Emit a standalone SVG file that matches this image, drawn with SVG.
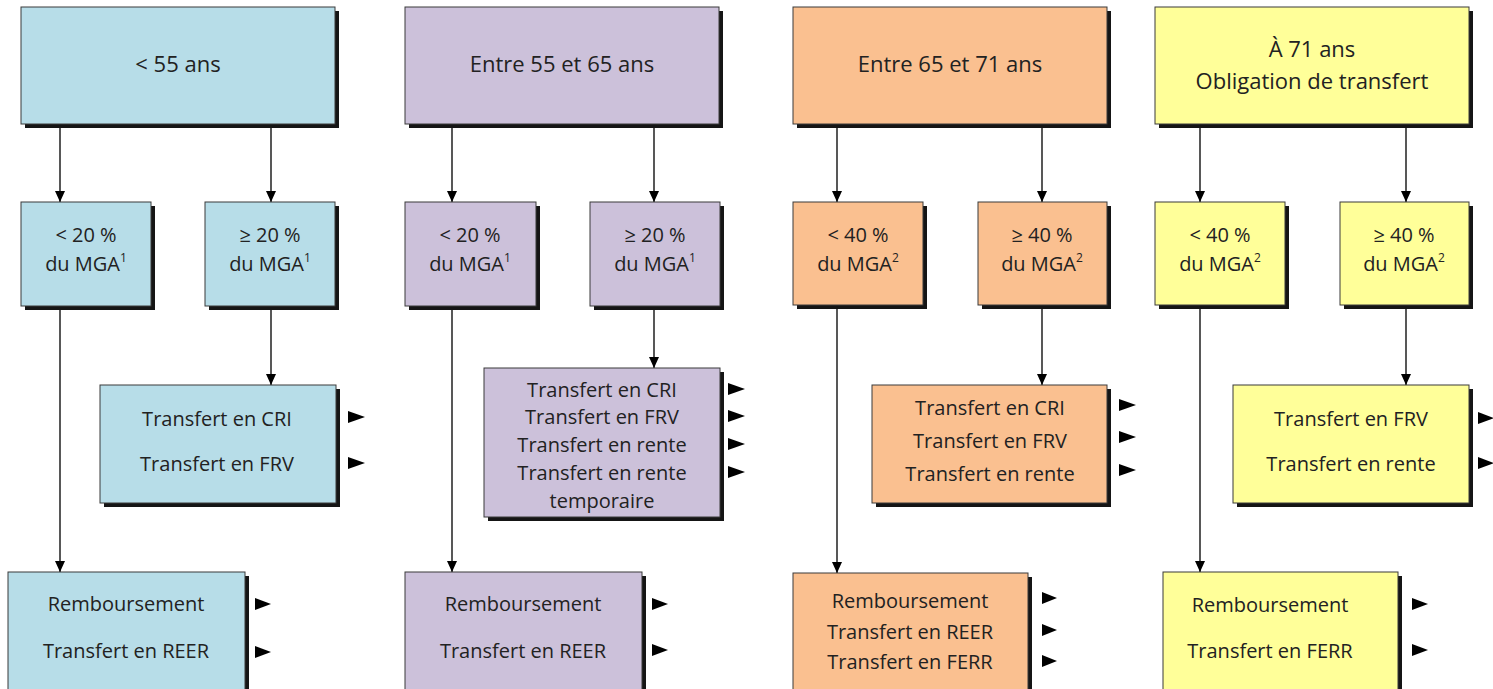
<svg xmlns="http://www.w3.org/2000/svg" width="1493" height="689" viewBox="0 0 1493 689">
<defs>
<style>
.sh{fill:#151515}
.box{stroke:#3a3a3a;stroke-width:1}
.blue{fill:#B7DDE8}
.purple{fill:#CCC1DA}
.orange{fill:#FAC090}
.yellow{fill:#FFFF99}
text{font-family:"Open Sans","Liberation Sans",sans-serif;font-size:20px;fill:#222;text-anchor:middle;dominant-baseline:central}
.big{font-size:22px}
.sup{font-size:12px}
.bul{fill:#000}
.edge{stroke:#111;stroke-width:1.4;fill:none;marker-end:url(#ah)}
</style>
<marker id="ah" markerUnits="userSpaceOnUse" markerWidth="12" markerHeight="12" viewBox="0 0 12 12" refX="11" refY="6" orient="auto">
<path d="M0,1 L11,6 L0,11 z" fill="#000"/>
</marker>
</defs>
<rect width="1493" height="689" fill="#fff"/>

<g id="connectors">
<line class="edge" x1="60" y1="124" x2="60" y2="202"/>
<line class="edge" x1="271" y1="124" x2="271" y2="202"/>
<line class="edge" x1="60" y1="306" x2="60" y2="572"/>
<line class="edge" x1="271" y1="306" x2="271" y2="385"/>
<line class="edge" x1="452" y1="124" x2="452" y2="202"/>
<line class="edge" x1="654" y1="124" x2="654" y2="202"/>
<line class="edge" x1="452" y1="306" x2="452" y2="572"/>
<line class="edge" x1="654" y1="306" x2="654" y2="368"/>
<line class="edge" x1="837" y1="124" x2="837" y2="202"/>
<line class="edge" x1="1042" y1="124" x2="1042" y2="202"/>
<line class="edge" x1="837" y1="305" x2="837" y2="573"/>
<line class="edge" x1="1042" y1="305" x2="1042" y2="385"/>
<line class="edge" x1="1200" y1="124" x2="1200" y2="202"/>
<line class="edge" x1="1406" y1="124" x2="1406" y2="202"/>
<line class="edge" x1="1200" y1="305" x2="1200" y2="572"/>
<line class="edge" x1="1406" y1="305" x2="1406" y2="385"/>
</g>

<!-- Column 1 -->
<g id="n1">
<rect class="sh" x="25" y="11" width="314" height="117"/>
<rect class="box blue" x="21" y="7" width="314" height="117"/>
<text class="big" x="178" y="63">&lt; 55 ans</text>
</g>
<g id="n1a">
<rect class="sh" x="25" y="206" width="130" height="104"/>
<rect class="box blue" x="21" y="202" width="130" height="104"/>
<text x="86" y="234">&lt; 20 %</text>
<text x="86" y="263">du MGA<tspan class="sup" dy="-6">1</tspan></text>
</g>
<g id="n1b">
<rect class="sh" x="209" y="206" width="130" height="104"/>
<rect class="box blue" x="205" y="202" width="130" height="104"/>
<text x="270" y="234">≥ 20 %</text>
<text x="270" y="263">du MGA<tspan class="sup" dy="-6">1</tspan></text>
</g>
<g id="n1c">
<rect class="sh" x="104" y="389" width="236" height="118"/>
<rect class="box blue" x="100" y="385" width="236" height="118"/>
<text x="217" y="418">Transfert en CRI</text>
<text x="217" y="463">Transfert en FRV</text>
<polygon class="bul" points="348,411 365,417 348,423"/>
<polygon class="bul" points="348,457 365,463 348,469"/>
</g>
<g id="n1d">
<rect class="sh" x="12" y="576" width="237" height="130"/>
<rect class="box blue" x="8" y="572" width="237" height="130"/>
<text x="126" y="603">Remboursement</text>
<text x="126" y="650">Transfert en REER</text>
<polygon class="bul" points="255,598 271,604 255,610"/>
<polygon class="bul" points="255,646 271,652 255,658"/>
</g>

<!-- Column 2 -->
<g id="n2">
<rect class="sh" x="409" y="11" width="314" height="117"/>
<rect class="box purple" x="405" y="7" width="314" height="117"/>
<text class="big" x="562" y="63">Entre 55 et 65 ans</text>
</g>
<g id="n2a">
<rect class="sh" x="409" y="206" width="131" height="104"/>
<rect class="box purple" x="405" y="202" width="131" height="104"/>
<text x="470" y="234">&lt; 20 %</text>
<text x="470" y="263">du MGA<tspan class="sup" dy="-6">1</tspan></text>
</g>
<g id="n2b">
<rect class="sh" x="594" y="206" width="130" height="104"/>
<rect class="box purple" x="590" y="202" width="130" height="104"/>
<text x="655" y="234">≥ 20 %</text>
<text x="655" y="263">du MGA<tspan class="sup" dy="-6">1</tspan></text>
</g>
<g id="n2c">
<rect class="sh" x="488" y="372" width="236" height="149"/>
<rect class="box purple" x="484" y="368" width="236" height="149"/>
<text x="602" y="389">Transfert en CRI</text>
<text x="602" y="416">Transfert en FRV</text>
<text x="602" y="444">Transfert en rente</text>
<text x="602" y="472">Transfert en rente</text>
<text x="602" y="500">temporaire</text>
<polygon class="bul" points="728,383 745,389 728,395"/>
<polygon class="bul" points="728,410 745,416 728,422"/>
<polygon class="bul" points="728,438 745,444 728,450"/>
<polygon class="bul" points="728,466 745,472 728,478"/>
</g>
<g id="n2d">
<rect class="sh" x="409" y="576" width="237" height="130"/>
<rect class="box purple" x="405" y="572" width="237" height="130"/>
<text x="523" y="603">Remboursement</text>
<text x="523" y="650">Transfert en REER</text>
<polygon class="bul" points="652,598 668,604 652,610"/>
<polygon class="bul" points="652,644 668,650 652,656"/>
</g>

<!-- Column 3 -->
<g id="n3">
<rect class="sh" x="797" y="11" width="314" height="117"/>
<rect class="box orange" x="793" y="7" width="314" height="117"/>
<text class="big" x="950" y="63">Entre 65 et 71 ans</text>
</g>
<g id="n3a">
<rect class="sh" x="797" y="206" width="130" height="103"/>
<rect class="box orange" x="793" y="202" width="130" height="103"/>
<text x="858" y="234">&lt; 40 %</text>
<text x="858" y="263">du MGA<tspan class="sup" dy="-6">2</tspan></text>
</g>
<g id="n3b">
<rect class="sh" x="982" y="206" width="129" height="103"/>
<rect class="box orange" x="978" y="202" width="129" height="103"/>
<text x="1042" y="234">≥ 40 %</text>
<text x="1042" y="263">du MGA<tspan class="sup" dy="-6">2</tspan></text>
</g>
<g id="n3c">
<rect class="sh" x="876" y="389" width="235" height="118"/>
<rect class="box orange" x="872" y="385" width="235" height="118"/>
<text x="990" y="407">Transfert en CRI</text>
<text x="990" y="440">Transfert en FRV</text>
<text x="990" y="473">Transfert en rente</text>
<polygon class="bul" points="1119,399 1136,405 1119,411"/>
<polygon class="bul" points="1119,431 1136,437 1119,443"/>
<polygon class="bul" points="1119,464 1136,470 1119,476"/>
</g>
<g id="n3d">
<rect class="sh" x="797" y="577" width="235" height="130"/>
<rect class="box orange" x="793" y="573" width="235" height="130"/>
<text x="910" y="600">Remboursement</text>
<text x="910" y="631">Transfert en REER</text>
<text x="910" y="661">Transfert en FERR</text>
<polygon class="bul" points="1042,592 1057,598 1042,604"/>
<polygon class="bul" points="1042,624 1057,630 1042,636"/>
<polygon class="bul" points="1042,655 1057,661 1042,667"/>
</g>

<!-- Column 4 -->
<g id="n4">
<rect class="sh" x="1159" y="11" width="314" height="117"/>
<rect class="box yellow" x="1155" y="7" width="314" height="117"/>
<text class="big" x="1312" y="48">À 71 ans</text>
<text class="big" x="1312" y="80">Obligation de transfert</text>
</g>
<g id="n4a">
<rect class="sh" x="1159" y="206" width="130" height="103"/>
<rect class="box yellow" x="1155" y="202" width="130" height="103"/>
<text x="1220" y="234">&lt; 40 %</text>
<text x="1220" y="263">du MGA<tspan class="sup" dy="-6">2</tspan></text>
</g>
<g id="n4b">
<rect class="sh" x="1344" y="206" width="129" height="103"/>
<rect class="box yellow" x="1340" y="202" width="129" height="103"/>
<text x="1404" y="234">≥ 40 %</text>
<text x="1404" y="263">du MGA<tspan class="sup" dy="-6">2</tspan></text>
</g>
<g id="n4c">
<rect class="sh" x="1237" y="389" width="236" height="118"/>
<rect class="box yellow" x="1233" y="385" width="236" height="118"/>
<text x="1351" y="418">Transfert en FRV</text>
<text x="1351" y="463">Transfert en rente</text>
<polygon class="bul" points="1478,412 1494,418 1478,424"/>
<polygon class="bul" points="1478,457 1494,463 1478,469"/>
</g>
<g id="n4d">
<rect class="sh" x="1167" y="576" width="235" height="130"/>
<rect class="box yellow" x="1163" y="572" width="235" height="130"/>
<text x="1270" y="604">Remboursement</text>
<text x="1270" y="650">Transfert en FERR</text>
<polygon class="bul" points="1412,598 1428,604 1412,610"/>
<polygon class="bul" points="1412,644 1428,650 1412,656"/>
</g>
</svg>
